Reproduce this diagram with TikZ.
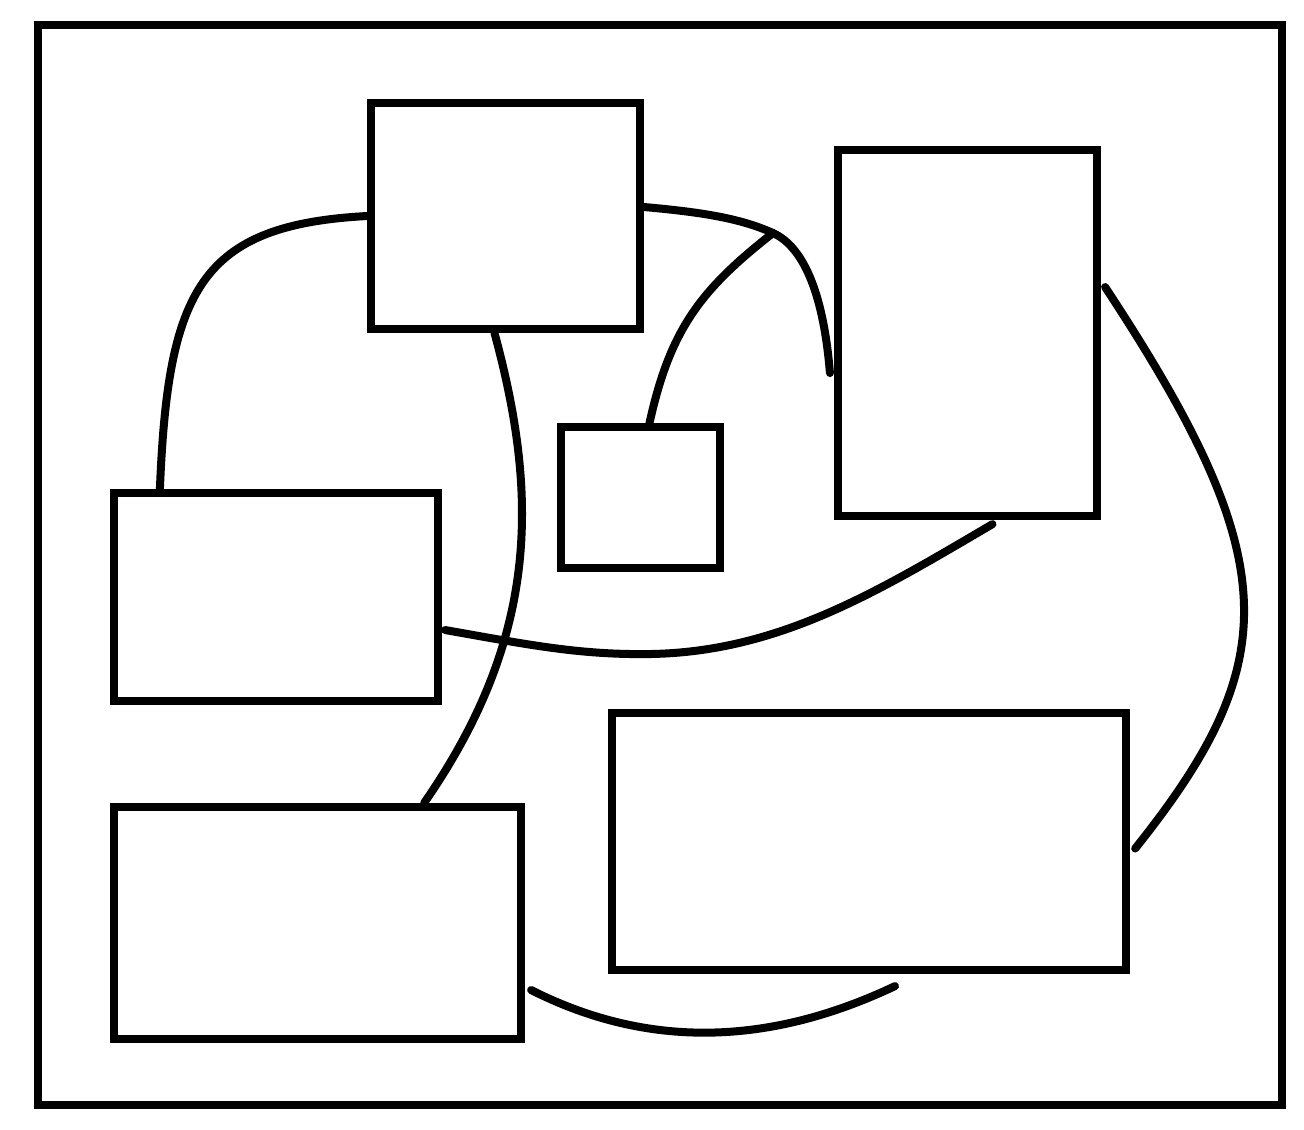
\documentclass[tikz,border=0pt]{standalone}
\usetikzlibrary{calc}

\tikzset{
  box/.style={draw, line width=0.08cm, inner sep=0pt},
  link/.style={line width=0.08cm, line cap=round}
}

\begin{document}
\begin{tikzpicture}[x=0.01cm, y=-0.01cm]
\useasboundingbox (0,0) rectangle (1304,1129);
\draw[line width=0.08cm] (38,25) rectangle (1282,1105);
\node[box, minimum width=2.69cm, minimum height=2.26cm] (A) at (505.5,216) {};
\node[box, minimum width=2.59cm, minimum height=3.66cm] (B) at (967.5,333) {};
\node[box, minimum width=1.59cm, minimum height=1.41cm] (C) at (640.5,497.5) {};
\node[box, minimum width=3.24cm, minimum height=2.08cm] (D) at (276,597) {};
\node[box, minimum width=4.07cm, minimum height=2.32cm] (E) at (317.5,923) {};
\node[box, minimum width=5.14cm, minimum height=2.57cm] (F) at (869,841.5) {};
\coordinate (j) at (773,233);
% connectors
\draw[link] (A.west) .. controls (200,225) and (168,290) .. ($(D.north west)+(50,0)$);
\draw[link] ($(A.east)+(0,-9)$) .. controls (700,212) and (740,218) .. (j)
  .. controls (806,248) and (824,300) .. ($(B.west)+(-4,40)$);
\draw[link] (j) .. controls (700,290) and (670,330) .. ($(C.north)+(9,0)$);
\draw[link] ($(A.south)+(-11,0)$) .. controls (540,500) and (537,640) .. ($(E.north east)+(-101,0)$);
\draw[link] ($(D.east)+(3,33)$) .. controls (530,645) and (580,655) .. (650,654)
  .. controls (780,652) and (880,590) .. ($(B.south)+(25,4)$);
\draw[link] ($(B.east)+(4,-46)$) .. controls (1285,560) and (1285,661) .. ($(F.east)+(5,7)$);
\draw[link] ($(E.east)+(6,67)$) .. controls (640,1045) and (760,1050) .. ($(F.south)+(26,12)$);
\end{tikzpicture}
\end{document}
